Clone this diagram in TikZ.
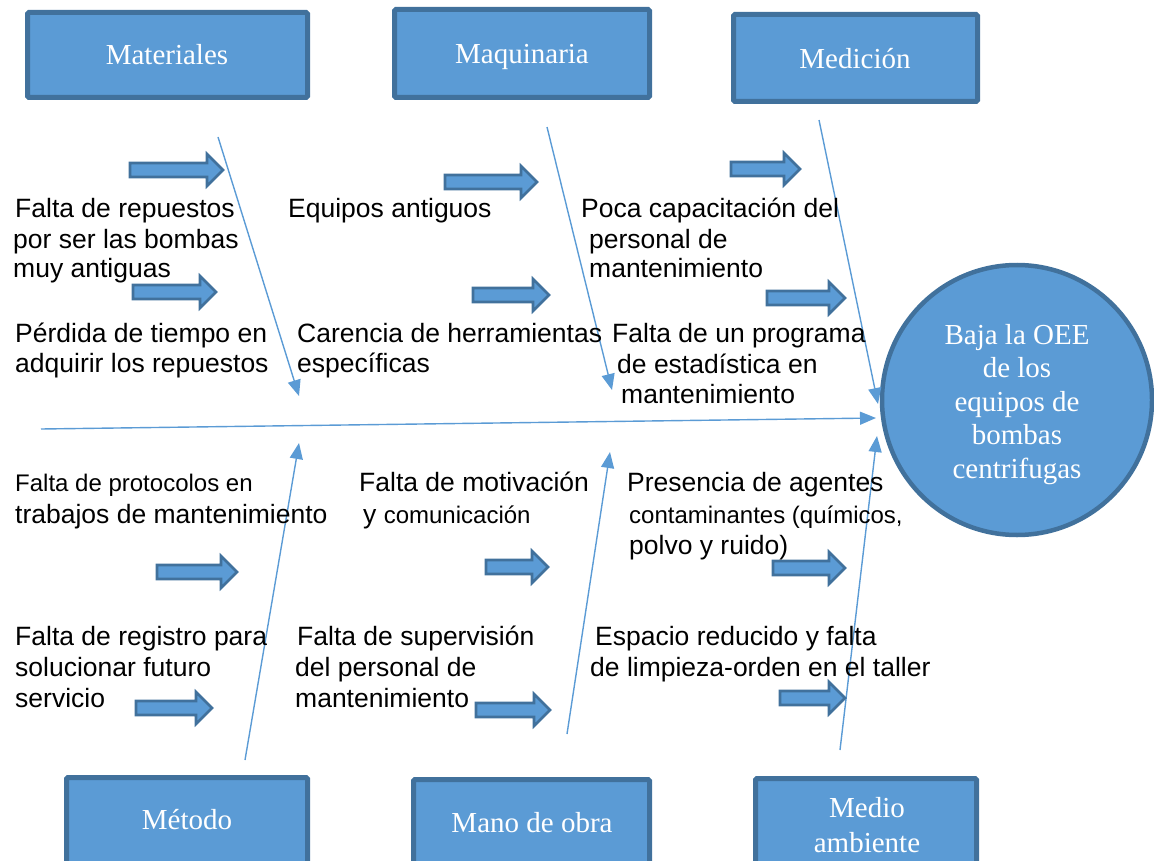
\documentclass[tikz,border=0pt]{standalone}
\usepackage{fontspec}
\setmainfont{Liberation Sans}
\newfontfamily\timesf{Liberation Serif}
\usetikzlibrary{arrows.meta}
\definecolor{lblue}{HTML}{5B9BD5}
\definecolor{dblue}{HTML}{41719C}
\newcommand\blockarr[4]{% name, x1, xtip, y
  \draw[barr] (#2,#4-7) -- (#3-16,#4-7) -- (#3-16,#4-16) -- (#3,#4) -- (#3-16,#4+16) -- (#3-16,#4+7) -- (#2,#4+7) -- cycle;
  \coordinate (#1) at (#3,#4);}
\tikzset{
  catbox/.style={draw=dblue, line width=5pt, fill=lblue, rounded corners=1.5pt},
  cattext/.style={text=white, inner sep=0pt, anchor=base, font=\timesf\fontsize{29}{33}\selectfont},
  barr/.style={draw=dblue, line width=2.6pt, fill=lblue, line join=miter},
  bone/.style={draw=lblue, line width=1.4pt, -{Triangle[length=16pt,width=13pt]}},
  big/.style={inner sep=0pt, anchor=base west, font=\fontsize{26.5}{30}\selectfont},
  small/.style={inner sep=0pt, anchor=base west, font=\fontsize{24}{28}\selectfont}
}
\begin{document}
\begin{tikzpicture}[x=1pt,y=-1pt]
\useasboundingbox (0,0) rectangle (1154,861);
\clip (0,0) rectangle (1154,861);
% category boxes
\draw[catbox] (27.5,12.5) rectangle (307.5,97.5);
\node[cattext] (mat) at (167,65) {Materiales};
\draw[catbox] (394.5,9.5) rectangle (649.5,97.5);
\node[cattext] (maq) at (522,64) {Maquinaria};
\draw[catbox] (733.5,14.5) rectangle (977.5,101.5);
\node[cattext] (med) at (855,69) {Medición};
\draw[catbox] (66.5,777.5) rectangle (307.5,880);
\node[cattext] (met) at (187,829) {Método};
\draw[catbox] (413.5,779.5) rectangle (649.5,880);
\node[cattext] (mob) at (532,832) {Mano de obra};
\draw[catbox] (755.5,778.5) rectangle (976.5,880);
\node[cattext] (mam1) at (867,817) {Medio};
\node[cattext] (mam2) at (867,852) {ambiente};
% effect circle
\node[circle, draw=dblue, line width=4.5pt, fill=lblue, minimum size=270pt, inner sep=0pt] (eff) at (1017,400) {};
\node[cattext] (e1) at (1017,344) {Baja la OEE};
\node[cattext] (e2) at (1017,377.5) {de los};
\node[cattext] (e3) at (1017,411) {equipos de};
\node[cattext] (e4) at (1017,444.5) {bombas};
\node[cattext] (e5) at (1017,478) {centrifugas};
% spine and bones
\coordinate (sp0) at (41,429);
\coordinate (sp1) at (876,418);
\draw[bone] (sp0) -- (sp1);
\coordinate (b1s) at (218,137); \coordinate (b1e) at (299,396);
\coordinate (b2s) at (547,127); \coordinate (b2e) at (612,390);
\coordinate (b3s) at (819,120); \coordinate (b3e) at (878,404);
\coordinate (b4s) at (245,760); \coordinate (b4e) at (299,443);
\coordinate (b5s) at (567,734); \coordinate (b5e) at (610,452);
\coordinate (b6s) at (840,750); \coordinate (b6e) at (877,436);
\draw[bone] (b1s) -- (b1e);
\draw[bone] (b2s) -- (b2e);
\draw[bone] (b3s) -- (b3e);
\draw[bone] (b4s) -- (b4e);
\draw[bone] (b5s) -- (b5e);
\draw[bone] (b6s) -- (b6e);
% block arrows
\blockarr{a1}{130}{223}{170}
\blockarr{a2}{133}{216}{292}
\blockarr{a3}{445}{537}{182}
\blockarr{a4}{473}{549}{295}
\blockarr{a5}{731}{800}{169}
\blockarr{a6}{767}{845}{298}
\blockarr{a7}{157}{237}{572}
\blockarr{a8}{486}{548}{567}
\blockarr{a9}{773}{845}{568}
\blockarr{a10}{136}{212}{708}
\blockarr{a11}{476}{550}{710}
\blockarr{a12}{780}{845}{698}
% texts
\node[big] (t1) at (15,218) {Falta de repuestos};
\node[big] (t2) at (13,248) {por ser las bombas};
\node[big] (t3) at (13,277) {muy antiguas};
\node[big] (t4) at (15,342) {Pérdida de tiempo en};
\node[big] (t5) at (15,372) {adquirir los repuestos};
\node[big] (t6) at (288,218) {Equipos antiguos};
\node[big] (t7) at (297,342) {Carencia de herramientas};
\node[big] (t8) at (297,372) {específicas};
\node[big] (t9) at (581,218) {Poca capacitación del};
\node[big] (t10) at (589,248) {personal de};
\node[big] (t11) at (589,277) {mantenimiento};
\node[big] (t12) at (612,342) {Falta de un programa};
\node[big] (t13) at (617,373) {de estadística en};
\node[big] (t14) at (621,403) {mantenimiento};
\node[small] (t15) at (15,491) {Falta de protocolos en};
\node[big] (t16) at (15,523) {trabajos de mantenimiento};
\node[big] (t17) at (359,491) {Falta de motivación};
\node[big] (t18) at (363,523) {y {\fontsize{24}{28}\selectfont comunicación}};
\node[big] (t19) at (627,491) {Presencia de agentes};
\node[small] (t20) at (629,523) {contaminantes (químicos,};
\node[big] (t21) at (629,554) {polvo y ruido)};
\node[big] (t22) at (15,645) {Falta de registro para};
\node[big] (t23) at (15,676) {solucionar futuro};
\node[big] (t24) at (15,707) {servicio};
\node[big] (t25) at (297,645) {Falta de supervisión};
\node[big] (t26) at (295,676) {del personal de};
\node[big] (t27) at (295,707) {mantenimiento};
\node[big] (t28) at (595,645) {Espacio reducido y falta};
\node[big] (t29) at (590,676) {de limpieza-orden en el taller};
\end{tikzpicture}
\end{document}
